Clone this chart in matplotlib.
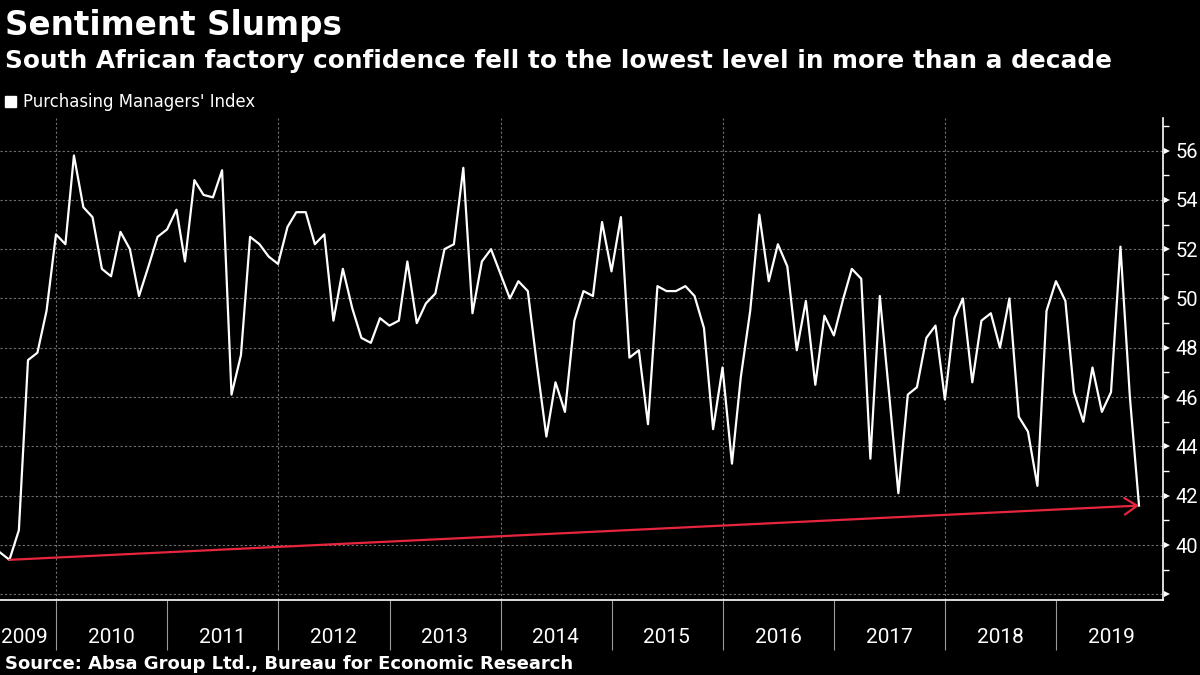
import matplotlib.pyplot as plt
import matplotlib.transforms as mtransforms
import pandas as pd

# Absa PMI, monthly, June 2009 - September 2019
pmi = [39.7, 39.4, 40.6, 47.5, 47.8, 49.5, 52.6,
       52.2, 55.8, 53.7, 53.3, 51.2, 50.9, 52.7, 52.0, 50.1, 51.3, 52.5, 52.8,
       53.6, 51.5, 54.8, 54.2, 54.1, 55.2, 46.1, 47.7, 52.5, 52.2, 51.7, 51.4,
       52.9, 53.5, 53.5, 52.2, 52.6, 49.1, 51.2, 49.6, 48.4, 48.2, 49.2, 48.9,
       49.1, 51.5, 49.0, 49.8, 50.2, 52.0, 52.2, 55.3, 49.4, 51.5, 52.0, 51.0,
       50.0, 50.7, 50.3, 47.3, 44.4, 46.6, 45.4, 49.1, 50.3, 50.1, 53.1, 51.1,
       53.3, 47.6, 47.9, 44.9, 50.5, 50.3, 50.3, 50.5, 50.1, 48.8, 44.7, 47.2,
       43.3, 46.8, 49.5, 53.4, 50.7, 52.2, 51.3, 47.9, 49.9, 46.5, 49.3, 48.5,
       50.0, 51.2, 50.8, 43.5, 50.1, 46.2, 42.1, 46.1, 46.4, 48.4, 48.9, 45.9,
       49.2, 50.0, 46.6, 49.1, 49.4, 48.0, 50.0, 45.2, 44.6, 42.4, 49.5, 50.7,
       49.9, 46.2, 45.0, 47.2, 45.4, 46.2, 52.1, 46.0, 41.6]
dates = pd.date_range('2009-06-30', periods=len(pmi), freq='ME')

years = list(range(2010, 2020))
year_labels = ['2009'] + [str(y) for y in years]
y_ticks = list(range(38, 57, 2))

red = '#e8253f'
grid_col = '#707070'

fig = plt.figure(figsize=(12, 6.75), dpi=100, facecolor='black')
ax = fig.add_axes([0, 0.1111, 0.9692, 0.7141])
ax.set_facecolor('black')

# the PMI line
ax.plot(dates, pmi, color='white', lw=1.6, zorder=3)

# arrow from the 2009 low to the latest reading
low_i = pmi.index(min(pmi[:12]))
ax.annotate('', xy=(dates[-1], pmi[-1]), xytext=(dates[low_i], pmi[low_i]),
            arrowprops=dict(arrowstyle='->,head_length=0.45,head_width=0.3',
                            color=red, lw=1.6, shrinkA=0, shrinkB=0,
                            mutation_scale=20), zorder=4)

ax.set_xlim(pd.Timestamp('2009-06-30'), pd.Timestamp('2019-12-18'))
ax.set_ylim(37.77, 57.32)

# grid
ax.set_yticks(y_ticks)
ax.set_yticks(range(39, 58, 2), minor=True)
ax.set_yticklabels([''] + [str(v) for v in y_ticks[1:]])
ax.yaxis.grid(True, color=grid_col, lw=0.8, ls=(0, (2, 2)))
for y in years[::2]:
    ax.axvline(pd.Timestamp(f'{y}-01-01'), color=grid_col, lw=0.8,
               ls=(0, (2, 2)), zorder=1)

# spines
for s in ['left', 'top']:
    ax.spines[s].set_visible(False)
for s in ['bottom', 'right']:
    ax.spines[s].set_color('white')
    ax.spines[s].set_linewidth(1.2)

# y axis on the right, major ticks drawn as small triangles
ax.yaxis.tick_right()
ax.tick_params(axis='y', which='major', length=0, labelsize=14.5, pad=9,
               labelcolor='white', labelfontfamily='Roboto')
ax.tick_params(axis='y', which='minor', colors='white', length=4, width=1)
tri = mtransforms.offset_copy(ax.get_yaxis_transform(), fig=fig, x=4, y=0,
                              units='dots')
ax.plot([1] * len(y_ticks), y_ticks, '>', color='white', ms=4.5, mew=0,
        transform=tri, clip_on=False)

# x axis: year separators as long minor ticks, labels between them
ax.set_xticks([pd.Timestamp(f'{y}-01-01') for y in years], minor=True)
label_pos = [pd.Timestamp('2009-09-17')] + [pd.Timestamp(f'{y}-07-01') for y in years]
ax.set_xticks(label_pos)
ax.set_xticklabels(year_labels)
ax.tick_params(axis='x', which='minor', color='#9a9a9a', length=36, width=0.8)
ax.tick_params(axis='x', which='major', length=0, pad=20, labelsize=15,
               labelcolor='white', labelfontfamily='Roboto')

# titles
fig.text(0.004, 0.948, 'Sentiment Slumps', color='white', fontsize=23.5,
         weight='bold')
fig.text(0.004, 0.899,
         'South African factory confidence fell to the lowest level in more than a decade',
         color='white', fontsize=17.8, weight='bold')

# legend
fig.patches.append(plt.Rectangle((0.004, 0.842), 0.0095, 0.0165, color='white',
                                 transform=fig.transFigure, figure=fig))
fig.text(0.019, 0.842, "Purchasing Managers' Index", color='white', fontsize=11.9)

# source
fig.text(0.004, 0.009, 'Source: Absa Group Ltd., Bureau for Economic Research',
         color='white', fontsize=13, weight='bold')

fig.savefig('out.png', dpi=100, facecolor='black')
